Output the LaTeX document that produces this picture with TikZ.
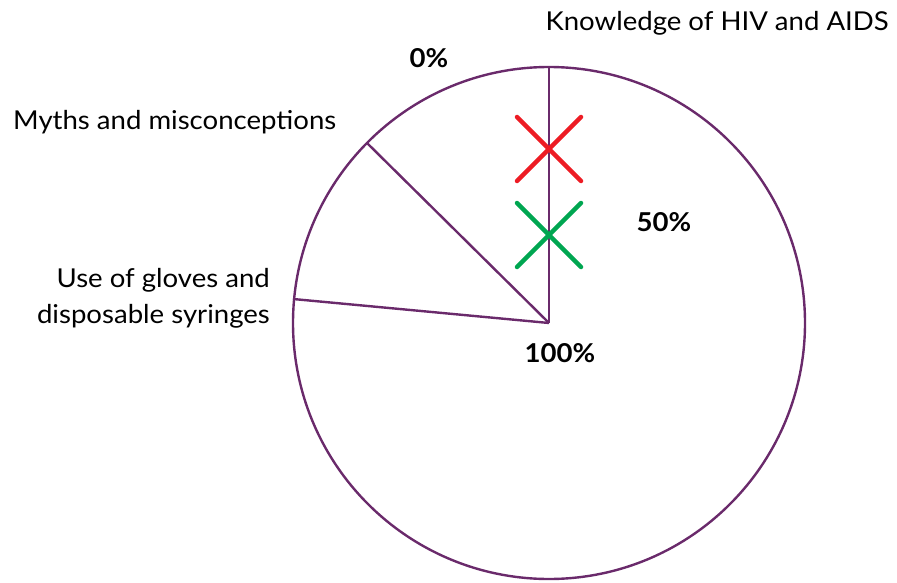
\documentclass[tikz,border=0pt]{standalone}
\usepackage{fontspec}
\setmainfont{Lato}[FakeStretch=1.06]
\usetikzlibrary{calc}
\definecolor{piepurple}{HTML}{6A2A6B}
\definecolor{crossred}{HTML}{ED1C24}
\definecolor{crossgreen}{HTML}{00A651}
\begin{document}
\begin{tikzpicture}[x=1pt,y=-1pt,
  rim/.style={draw=piepurple,line width=2.4pt},
  crossline/.style={line width=4.5pt,line cap=round},
  lbl/.style={font=\fontsize{26}{36}\selectfont,inner sep=0pt},
  pct/.style={font=\fontsize{26}{31}\selectfont\bfseries,inner sep=0pt}]
\useasboundingbox (0,0) rectangle (897,583);
% pie outline and section boundaries
\coordinate (c) at (549,323);
\draw[rim] (c) circle[radius=256];
\coordinate (top) at (549,67);
\coordinate (myth) at (367,143);
\coordinate (glove) at (293,299);
\draw[rim] (c) -- (top);
\draw[rim] (c) -- (myth);
\draw[rim] (c) -- (glove);
% crosses on the top boundary
\coordinate (rx) at (549,149);
\coordinate (gx) at (549,235);
\draw[crossline,crossred] ($(rx)+(-32,-32)$) -- ($(rx)+(32,32)$)
  ($(rx)+(32,-32)$) -- ($(rx)+(-32,32)$);
\draw[crossline,crossgreen] ($(gx)+(-32,-32)$) -- ($(gx)+(32,32)$)
  ($(gx)+(32,-32)$) -- ($(gx)+(-32,32)$);
% labels
\node[lbl,anchor=east] (know) at (889,23) {Knowledge of HIV and AIDS};
\node[pct] (p0) at (429,58) {0\%};
\node[lbl,anchor=west] (myths) at (13,122) {Myths and misconceptions};
\node[pct] (p50) at (664,222) {50\%};
\node[lbl,anchor=east,align=right] (gloves) at (270,298) {Use of gloves and\\disposable syringes};
\node[pct] (p100) at (560,353) {100\%};
\end{tikzpicture}
\end{document}
